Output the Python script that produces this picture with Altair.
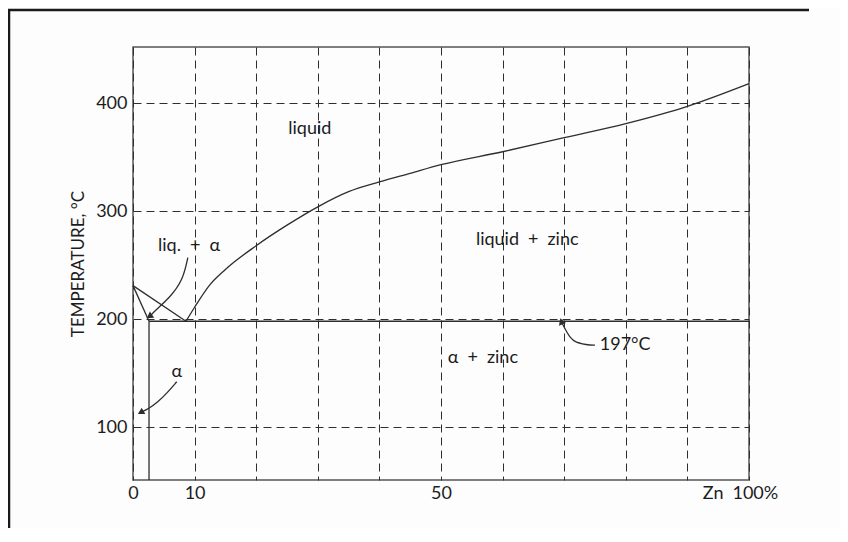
import altair as alt
import pandas as pd

FONT = "Lato"
INK = "#2e2e2e"
TXT = "#1c1c1c"
SP = "\u2002"  # wide space used around '+'

# --- data ---
# liquidus on the zinc side, from the eutectic up to pure zinc
liq_zn_x = [8.6, 10, 12.5, 15, 20, 25, 30, 35, 40, 45, 50, 60, 70, 80, 90, 100]
liq_zn_t = [198, 211, 232, 246, 268, 287, 304, 318, 327, 335, 343, 355, 368, 381, 397, 418]
# liquidus on the tin side
liq_sn_x = [0, 8.6]
liq_sn_t = [231, 198]
# solidus of alpha
sol_x = [0, 2.6]
sol_t = [231, 198]
# solvus (vertical) of alpha
solv_x = [2.6, 2.6]
solv_t = [198, 51]
# eutectic isotherm
eut_x = [2.6, 100]
eut_t = [198, 198]

# annotation arrows (paths + tips)
arrow1_x = [8.9, 8.1, 6.0, 3.6, 2.8]
arrow1_t = [257, 236, 220, 208, 203]
arrow2_x = [7.1, 5.6, 4.0, 2.5, 1.4]
arrow2_t = [142, 132, 123, 117, 114]
arrow3_x = [75.0, 73.7, 71.4, 70.5, 69.6]
arrow3_t = [176, 176, 179, 187, 197]

# region labels
lab_text = ["liquid", f"liq.{SP}+{SP}\u03b1", f"liquid{SP}+{SP}zinc",
            f"\u03b1{SP}+{SP}zinc", "197\u00b0C", "\u03b1"]
lab_x = [28.7, 9.1, 64.0, 56.8, 79.9, 7.1]
lab_t = [376, 268, 273, 164, 176, 151]

# axes
x_grid = [0, 10, 20, 30, 40, 50, 60, 70, 80, 90, 100]
x_label_values = [0, 10, 50, 100]
x_label_text = ["0", "10", "50", f"Zn{SP}100%"]
y_values = [100, 200, 300, 400]
y_domain = [51, 452]
x_domain = [0, 100]

label_expr = "".join(
    f"datum.value == {v} ? '{t}' : " for v, t in zip(x_label_values, x_label_text)
) + "''"

xs = alt.Scale(domain=x_domain, nice=False, zero=False)
ys = alt.Scale(domain=y_domain, nice=False, zero=False)

W, H = 616, 433
PAD = {"left": 125, "top": 39, "right": 91, "bottom": 48}


def seg(name, xv, tv):
    return pd.DataFrame({"x": xv, "t": tv, "seg": name, "o": list(range(len(xv)))})


curves = seg("liq_zn", liq_zn_x, liq_zn_t)
straight = pd.concat([
    seg("liq_sn", liq_sn_x, liq_sn_t),
    seg("sol", sol_x, sol_t),
    seg("solv", solv_x, solv_t),
    seg("eut", eut_x, eut_t),
], ignore_index=True)
arrows = pd.concat([
    seg("a1", arrow1_x, arrow1_t),
    seg("a2", arrow2_x, arrow2_t),
    seg("a3", arrow3_x, arrow3_t),
], ignore_index=True)
tips = pd.DataFrame({
    "x": [arrow1_x[-1], arrow2_x[-1], arrow3_x[-1]],
    "t": [arrow1_t[-1], arrow2_t[-1], arrow3_t[-1]],
    "ang": [235, 240, 340],
})
labels = pd.DataFrame({"x": lab_x, "t": lab_t, "text": lab_text})

X = alt.X("x:Q", scale=xs, axis=alt.Axis(
    values=x_grid, labelExpr=label_expr, title=None, ticks=False, domain=False,
    grid=True, gridDash=[8, 5], gridColor=INK, gridOpacity=1, gridWidth=1,
    labelFont=FONT, labelFontSize=18, labelColor=TXT, labelPadding=4,
    labelFlush=False, labelOverlap=False,
    labelOffset={"condition": {"test": "datum.value == 100", "value": -9}, "value": 0},
))
Y = alt.Y("t:Q", scale=ys, axis=alt.Axis(
    values=y_values, title="TEMPERATURE, \u00b0C", ticks=False, domain=False,
    grid=True, gridDash=[8, 5], gridColor=INK, gridOpacity=1, gridWidth=1,
    labelFont=FONT, labelFontSize=18, labelColor=TXT, labelPadding=6,
    titleFont=FONT, titleFontSize=17, titleFontWeight="normal", titleColor=TXT,
    titlePadding=8,
))

base_grid = alt.Chart(straight).mark_line(color=INK, strokeWidth=1.3).encode(
    x=X, y=Y, detail="seg:N", order="o:Q")
curve_layer = alt.Chart(curves).mark_line(color=INK, strokeWidth=1.3, interpolate="monotone").encode(
    x=alt.X("x:Q", scale=xs), y=alt.Y("t:Q", scale=ys), detail="seg:N", order="o:Q")
arrow_layer = alt.Chart(arrows).mark_line(color=INK, strokeWidth=1.3, interpolate="basis").encode(
    x=alt.X("x:Q", scale=xs), y=alt.Y("t:Q", scale=ys), detail="seg:N", order="o:Q")
tip_layer = alt.Chart(tips).mark_point(shape="triangle", filled=True, color=INK, size=55, opacity=1).encode(
    x=alt.X("x:Q", scale=xs), y=alt.Y("t:Q", scale=ys), angle=alt.Angle("ang:Q", scale=None))
text_layer = alt.Chart(labels).mark_text(font=FONT, fontSize=18, color=TXT).encode(
    x=alt.X("x:Q", scale=xs), y=alt.Y("t:Q", scale=ys), text="text:N")

# outer frame of the scanned page (left edge and top edge)
frame_left = alt.Chart(pd.DataFrame({"a": [0]})).mark_rule(
    stroke="#1a1a1a", strokeWidth=2.5, clip=False).encode(
    x=alt.value(-124), y=alt.value(-38), y2=alt.value(H + PAD["bottom"]))
frame_top = alt.Chart(pd.DataFrame({"a": [0]})).mark_rule(
    stroke="#1a1a1a", strokeWidth=2.5, clip=False).encode(
    y=alt.value(-37), y2=alt.value(-37), x=alt.value(-125), x2=alt.value(W + 60))

chart = alt.layer(base_grid, curve_layer, arrow_layer, tip_layer, text_layer,
                  frame_left, frame_top).properties(
    width=W, height=H,
    padding=PAD,
    autosize=alt.AutoSizeParams(type="none"),
    background="#fdfdfd",
).configure_view(stroke="#555", strokeWidth=1.5)

chart.save("out.html", embed_options={"renderer": "svg", "actions": False})
